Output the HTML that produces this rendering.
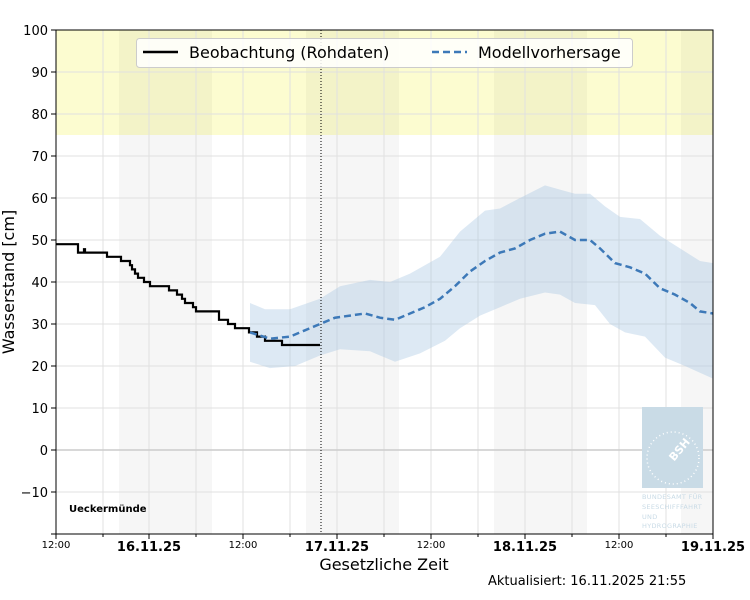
<!DOCTYPE html><html><head><meta charset="utf-8"><style>body{margin:0;background:#fff}svg{display:block;font-family:"DejaVu Sans","Liberation Sans",sans-serif}</style></head><body>
<svg width="750" height="600" viewBox="0 0 750 600">
<rect x="56" y="30" width="657" height="105" fill="#fcfcd0"/>
<g fill="#000" fill-opacity="0.035">
<rect x="119" y="30" width="93" height="504"/><rect x="306" y="30" width="93" height="504"/><rect x="494" y="30" width="93" height="504"/><rect x="681" y="30" width="32" height="504"/></g>
<g stroke="#e0e0e0" stroke-width="1">
<path d="M103 30V534M149 30V534M196 30V534M243 30V534M290 30V534M337 30V534M384 30V534M431 30V534M478 30V534M525 30V534M572 30V534M619 30V534M666 30V534"/>
<path d="M56 72H713M56 114H713M56 156H713M56 198H713M56 240H713M56 282H713M56 324H713M56 366H713M56 408H713M56 492H713"/></g>
<path d="M56 450H713" stroke="#ccc" stroke-width="1.5"/>
<rect x="642" y="407" width="61" height="81" fill="#c9dbe6"/>
<circle cx="673" cy="458" r="26" fill="none" stroke="#fff" stroke-width="1.5" stroke-dasharray="1 3"/>
<text x="680" y="453" font-size="11" font-weight="bold" fill="#fff" transform="rotate(-50 680 450)" text-anchor="middle">BSH</text>
<g font-size="6.5" fill="#c9dbe6" letter-spacing="0.3"><text x="642" y="499">BUNDESAMT FÜR</text><text x="642" y="509">SEESCHIFFFAHRT</text><text x="642" y="519">UND</text><text x="642" y="528">HYDROGRAPHIE</text></g>
<g transform="translate(0,450) scale(1,-4.2)">
<path fill="#a9c8e3" fill-opacity="0.4" d="M250 35L265 33.5L290 33.5L320 36L340 39L370 40.5L390 40L410 42L440 46L460 52L485 57L500 57.5L520 60L545 63L560 62L575 61L590 61L605 58L620 55.5L640 55L660 51L680 48L700 45L713 44.5L713 17L685 20L665 22L645 27L625 28L610 30L595 34.5L575 35L560 37L545 37.5L520 36L500 34L480 32L460 29L445 26L420 23L395 21L370 23.5L340 24L320 22.5L295 20L270 19.5L250 21Z"/>
<path fill="none" stroke="#000" stroke-width="2.2" vector-effect="non-scaling-stroke" d="M56 49H78V47H84V47.8H85V47H107V46H121V45H130V44H132V43H135V42H138V41H144V40H150V39H169V38H177V37H182V36H185V35H193V34H196V33H219V32H219V31H228V30H235V29H249V28H257V27H265V26H282V25H320"/>
<path fill="none" stroke="#3d79b8" stroke-width="2.5" stroke-dasharray="7 4" vector-effect="non-scaling-stroke" d="M250 28L270 26.5L290 27L305 28.5L320 30L335 31.5L350 32L365 32.5L380 31.5L395 31L410 32.5L425 34L440 36L455 39L470 42.5L485 45L500 47L515 48L530 50L545 51.5L560 52L575 50L590 50L600 48L615 44.5L630 43.5L645 42L660 38.5L675 37L690 35L700 33L713 32.5"/>
</g>
<path d="M321 30V534" stroke="#000" stroke-width="1" stroke-dasharray="1 2"/>
<rect x="56" y="30" width="657" height="504" fill="none" stroke="#000" stroke-width="1"/>
<g stroke="#000"><path d="M51 30H56M51 72H56M51 114H56M51 156H56M51 198H56M51 240H56M51 282H56M51 324H56M51 366H56M51 408H56M51 450H56M51 492H56M51 534H56"/>
<path d="M56 534V539M149 534V539M243 534V539M337 534V539M431 534V539M525 534V539M619 534V539M713 534V539M103 534V537M196 534V537M290 534V537M384 534V537M478 534V537M572 534V537M666 534V537"/></g>
<g font-size="13" text-anchor="end"><text x="48" y="35">100</text><text x="48" y="77">90</text><text x="48" y="119">80</text><text x="48" y="161">70</text><text x="48" y="203">60</text><text x="48" y="245">50</text><text x="48" y="287">40</text><text x="48" y="329">30</text><text x="48" y="371">20</text><text x="48" y="413">10</text><text x="48" y="455">0</text><text x="48" y="497">−10</text></g>
<g text-anchor="middle"><g font-size="10"><text x="56" y="548">12:00</text><text x="243" y="548">12:00</text><text x="431" y="548">12:00</text><text x="619" y="548">12:00</text></g>
<g font-size="13" font-weight="bold"><text x="149" y="551">16.11.25</text><text x="337" y="551">17.11.25</text><text x="525" y="551">18.11.25</text><text x="713" y="551">19.11.25</text></g></g>
<text x="384" y="570" font-size="16" text-anchor="middle">Gesetzliche Zeit</text>
<text x="14" y="282" font-size="16" text-anchor="middle" transform="rotate(-90 14 282)">Wasserstand [cm]</text>
<text x="488" y="585" font-size="13">Aktualisiert: 16.11.2025 21:55</text>
<text x="69" y="512" font-size="10" font-weight="bold">Ueckermünde</text>
<rect x="136.5" y="38.5" width="496" height="29" rx="3" fill="#fff" fill-opacity="0.85" stroke="#ccc"/>
<path d="M143 52H178" stroke="#000" stroke-width="2.5"/>
<text x="189" y="58" font-size="16">Beobachtung (Rohdaten)</text>
<path d="M432 52H467" stroke="#3d79b8" stroke-width="2.5" stroke-dasharray="7 4"/>
<text x="478" y="58" font-size="16">Modellvorhersage</text>
</svg></body></html>
